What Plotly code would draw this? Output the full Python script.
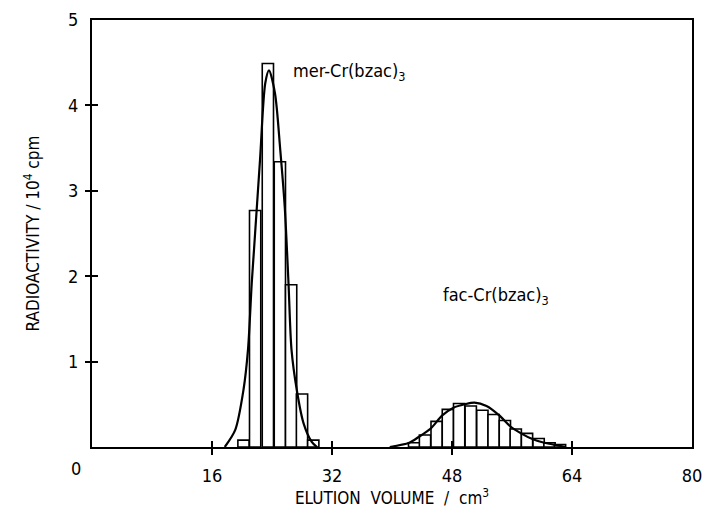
import plotly.graph_objects as go

# ---- data ----
# fraction histogram (bar centres in cm3, width 1.5 cm3), radioactivity in 10^4 cpm
mer_x = [20.2, 21.75, 23.45, 25.05, 26.55, 28.0, 29.5]
mer_y = [0.08, 2.77, 4.49, 3.34, 1.90, 0.62, 0.08]
fac_x = [42.95, 44.4, 45.95, 47.45, 48.95, 50.5, 52.05, 53.55, 55.05, 56.5, 58.0, 59.55, 61.0, 62.4]
fac_y = [0.05, 0.14, 0.30, 0.44, 0.51, 0.48, 0.43, 0.38, 0.31, 0.21, 0.16, 0.10, 0.05, 0.03]
bar_width = 1.5

# fitted elution curves
mer_curve_x = [17.7, 19.1, 20.2, 20.8, 21.3, 21.6, 22.4, 23.1, 23.6, 24.4, 25.1, 25.7, 26.2, 26.6, 27.3, 28.2, 29.3, 30.0]
mer_curve_y = [0.0, 0.2, 0.67, 1.14, 1.92, 2.31, 3.36, 4.26, 4.41, 4.14, 3.48, 2.81, 1.92, 1.14, 0.67, 0.28, 0.06, 0.0]
fac_curve_x = [39.7, 42.3, 43.6, 45.2, 46.7, 48.2, 49.7, 51.0, 52.6, 54.3, 55.8, 57.2, 58.8, 60.3, 62.0, 63.2]
fac_curve_y = [0.0, 0.05, 0.12, 0.22, 0.37, 0.46, 0.50, 0.52, 0.48, 0.37, 0.24, 0.16, 0.09, 0.05, 0.02, 0.0]

x_ticks = [16, 32, 48, 64, 80]
y_ticks = [1, 2, 3, 4, 5]
x_cross = [16, 32, 48, 64]
y_cross = [1, 2, 3, 4]

FONT = "DejaVu Sans Condensed"
NB = "\u00a0"

fig = go.Figure()
for xs, ys in [(mer_x, mer_y), (fac_x, fac_y)]:
    fig.add_trace(go.Bar(x=xs, y=ys, width=[bar_width] * len(xs),
                         marker=dict(color="white", line=dict(color="black", width=1.6)),
                         showlegend=False, hoverinfo="skip"))
for xs, ys in [(mer_curve_x, mer_curve_y), (fac_curve_x, fac_curve_y)]:
    fig.add_trace(go.Scatter(x=xs, y=ys, mode="lines",
                             line=dict(color="black", width=2.2, shape="spline", smoothing=0.8),
                             showlegend=False, hoverinfo="skip"))

# empty traces to realise the overlay axes that draw the crossing tick marks
for xa, ya in [("x2", "y"), ("x3", "y"), ("x", "y2"), ("x", "y3")]:
    fig.add_trace(go.Scatter(x=[], y=[], xaxis=xa, yaxis=ya, showlegend=False, hoverinfo="skip"))

common = dict(showgrid=False, zeroline=False, automargin=False)
fig.update_layout(
    width=705, height=513,
    margin=dict(l=92, r=13, t=20, b=66),
    paper_bgcolor="white", plot_bgcolor="white",
    barmode="overlay",
    font=dict(family=FONT, color="black", size=17),
    xaxis=dict(range=[0, 80], tickvals=x_ticks, ticktext=[str(v) for v in x_ticks],
               ticks="", ticklabelstandoff=11, showline=True, mirror=True,
               linecolor="black", linewidth=2, tickfont=dict(size=18),
               title=dict(text=f"ELUTION{NB}{NB}VOLUME{NB}{NB}/{NB}{NB}cm<sup>3</sup>",
                          font=dict(size=17), standoff=8), **common),
    yaxis=dict(range=[0, 5], tickvals=y_ticks, ticktext=[str(v) for v in y_ticks],
               ticks="", ticklabelstandoff=8, showline=True, mirror=True,
               linecolor="black", linewidth=2, tickfont=dict(size=18),
               title=dict(text=f"RADIOACTIVITY{NB}/{NB}10<sup>4</sup>{NB}cpm",
                          font=dict(size=17), standoff=24), **common),
    xaxis2=dict(range=[0, 80], overlaying="x", anchor="y", side="bottom", tickvals=x_cross,
                ticks="outside", ticklen=7, tickwidth=1.5, tickcolor="black",
                showticklabels=False, showline=False, **common),
    xaxis3=dict(range=[0, 80], overlaying="x", anchor="y", side="bottom", tickvals=x_cross,
                ticks="inside", ticklen=6, tickwidth=1.5, tickcolor="black",
                showticklabels=False, showline=False, **common),
    yaxis2=dict(range=[0, 5], overlaying="y", anchor="x", side="left", tickvals=y_cross,
                ticks="outside", ticklen=6, tickwidth=1.5, tickcolor="black",
                showticklabels=False, showline=False, **common),
    yaxis3=dict(range=[0, 5], overlaying="y", anchor="x", side="left", tickvals=y_cross,
                ticks="inside", ticklen=6, tickwidth=1.5, tickcolor="black",
                showticklabels=False, showline=False, **common),
    annotations=[
        dict(x=0, y=0, xref="x", yref="y", text="0", showarrow=False,
             xshift=-16, yshift=-21, font=dict(size=18)),
        dict(x=26.5, y=4.39, xref="x", yref="y", text="mer-Cr(bzac)<sub>3</sub>",
             showarrow=False, xanchor="left", yanchor="middle", font=dict(size=18)),
        dict(x=46.5, y=1.77, xref="x", yref="y", text="fac-Cr(bzac)<sub>3</sub>",
             showarrow=False, xanchor="left", yanchor="middle", font=dict(size=18)),
    ],
)

fig.write_html("out.html")
